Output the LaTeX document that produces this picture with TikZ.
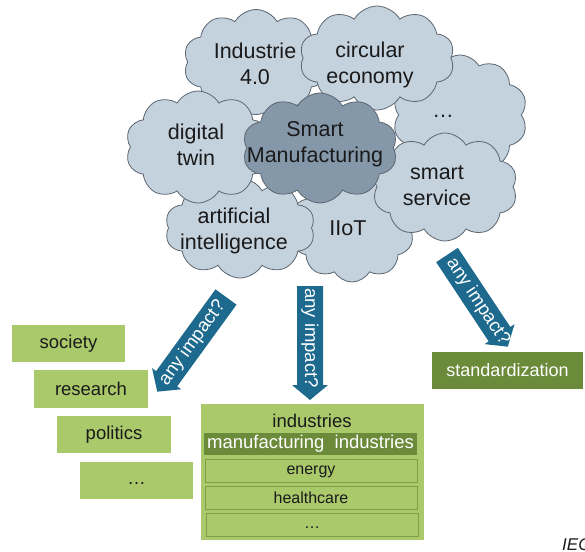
\documentclass[tikz,border=0pt]{standalone}
\usepackage{fontspec}
\setmainfont{Liberation Sans}
\usetikzlibrary{shapes.symbols}
\definecolor{cloudfill}{HTML}{C4D2DE}
\definecolor{cloudline}{HTML}{5C6670}
\definecolor{clouddark}{HTML}{8598AA}
\definecolor{arrowblue}{HTML}{1D6A8E}
\definecolor{lgreen}{HTML}{A9C96B}
\definecolor{dgreen}{HTML}{6B8A3A}
\definecolor{rowline}{HTML}{7E9E4A}
\definecolor{txt}{HTML}{1A1A1A}
\begin{document}
\begin{tikzpicture}[x=1pt,y=-1pt,
  cloudbox/.style={cloud, cloud puffs=10, cloud puff arc=120, aspect=1.35,
    draw=cloudline, fill=cloudfill, line width=0.8pt, inner sep=0pt},
  cloudtext/.style={align=center, inner sep=0pt, text=txt,
    font=\fontsize{21.5}{26}\selectfont},
  impacttext/.style={text=white, inner sep=0pt,
    font=\fontsize{18.5}{22}\selectfont},
  greenbox/.style={rectangle, fill=lgreen, text=txt, inner sep=0pt,
    font=\fontsize{18.5}{22}\selectfont},
  darkbox/.style={rectangle, fill=dgreen, text=white, inner sep=0pt,
    font=\fontsize{18}{22}\selectfont},
  rowbox/.style={rectangle, fill=lgreen, draw=rowline, line width=0.8pt,
    text=txt, inner sep=0pt, font=\fontsize{16}{19}\selectfont}
]
\useasboundingbox (0,0) rectangle (585,551);

% clouds (back to front)
\node[cloudbox, minimum width=135pt, minimum height=120pt] (dots) at (460,115) {};
\node[cloudbox, minimum width=145pt, minimum height=105pt] (ind40) at (256,62) {};
\node[cloudbox, minimum width=125pt, minimum height=110pt] (iiot) at (352,227) {};
\node[cloudbox, minimum width=155pt, minimum height=104pt] (circ) at (377,58) {};
\node[cloudbox, minimum width=145pt, minimum height=108pt] (serv) at (445,187) {};
\node[cloudbox, minimum width=150pt, minimum height=100pt] (ai) at (240,228) {};
\node[cloudbox, minimum width=145pt, minimum height=112pt] (twin) at (198,147) {};
\node[cloudbox, fill=clouddark, minimum width=155pt, minimum height=110pt] (sm) at (320,148) {};

\node[cloudtext] (dotslbl) at (443,116) {…};
\node[cloudtext] (ind40lbl) at (255,64) {Industrie\\4.0};
\node[cloudtext] (iiotlbl) at (348,228) {IIoT};
\node[cloudtext] (circlbl) at (370,65) {circular\\economy};
\node[cloudtext] (servlbl) at (437,186) {smart\\service};
\node[cloudtext] (ailbl) at (234,231) {artificial\\intelligence};
\node[cloudtext] (twinlbl) at (196,145) {digital\\twin};
\node[cloudtext] (smlbl) at (315,144) {Smart\\Manufacturing};

% impact arrows (tail at origin, tip at (L,0))
\begin{scope}[shift={(226,297)}, rotate=-126]
  \fill[arrowblue] (0,-13) -- (101,-13) -- (101,-18) -- (117,0) -- (101,18) -- (101,13) -- (0,13) -- cycle;
  \node[impacttext, rotate=54] (arrLtxt) at (57,0) {any impact?};
\end{scope}
\begin{scope}[shift={(310,286)}, rotate=-90]
  \fill[arrowblue] (0,-13) -- (99,-13) -- (99,-18) -- (114,0) -- (99,18) -- (99,13) -- (0,13) -- cycle;
  \node[impacttext, rotate=-90] (arrMtxt) at (52,0) {any impact?};
\end{scope}
\begin{scope}[shift={(447,255)}, rotate=-56.45]
  \fill[arrowblue] (0,-13) -- (95,-13) -- (95,-18) -- (110,0) -- (95,18) -- (95,13) -- (0,13) -- cycle;
  \node[impacttext, rotate=-56.45] (arrRtxt) at (56,0) {any impact?};
\end{scope}

% left boxes
\node[greenbox, minimum width=113pt, minimum height=37pt] (society) at (68.5,343.5) {society};
\node[greenbox, minimum width=114pt, minimum height=38pt] (research) at (91,389) {research};
\node[greenbox, minimum width=114pt, minimum height=37pt] (politics) at (114,434.5) {politics};
\node[greenbox, minimum width=113pt, minimum height=37pt] (moreL) at (136.5,480.5) {};
\node[greenbox, fill=none] (moreLlbl) at (136.5,484) {…};

% industries
\node[greenbox, minimum width=223pt, minimum height=136pt] (industries) at (312.5,472) {};
\node[greenbox, fill=none] (indlbl) at (312,421) {industries};
\node[darkbox, font=\fontsize{18.5}{22}\selectfont, minimum width=213pt, minimum height=22pt] (mfg) at (310.5,444) {manufacturing\ \ industries};
\node[rowbox, minimum width=212pt, minimum height=23pt] (energy) at (311,470.5) {};
\node[inner sep=0pt, text=txt, font=\fontsize{16}{19}\selectfont] (energylbl) at (311,471.5) {energy};
\node[rowbox, minimum width=212pt, minimum height=23pt] (health) at (311,497.5) {};
\node[inner sep=0pt, text=txt, font=\fontsize{16}{19}\selectfont] (healthlbl) at (311,498) {healthcare};
\node[rowbox, minimum width=212pt, minimum height=23pt] (moreI) at (312,524.5) {};
\node[inner sep=0pt, text=txt, font=\fontsize{16}{19}\selectfont] (moreIlbl) at (312,528) {…};

% standardization
\node[darkbox, minimum width=151pt, minimum height=37pt] (std) at (507.5,370.5) {standardization};

% source
\node[anchor=base west, inner sep=0pt, text=txt, font=\fontsize{17}{20}\selectfont\itshape] (iec) at (562,550) {IEC};
\end{tikzpicture}
\end{document}
